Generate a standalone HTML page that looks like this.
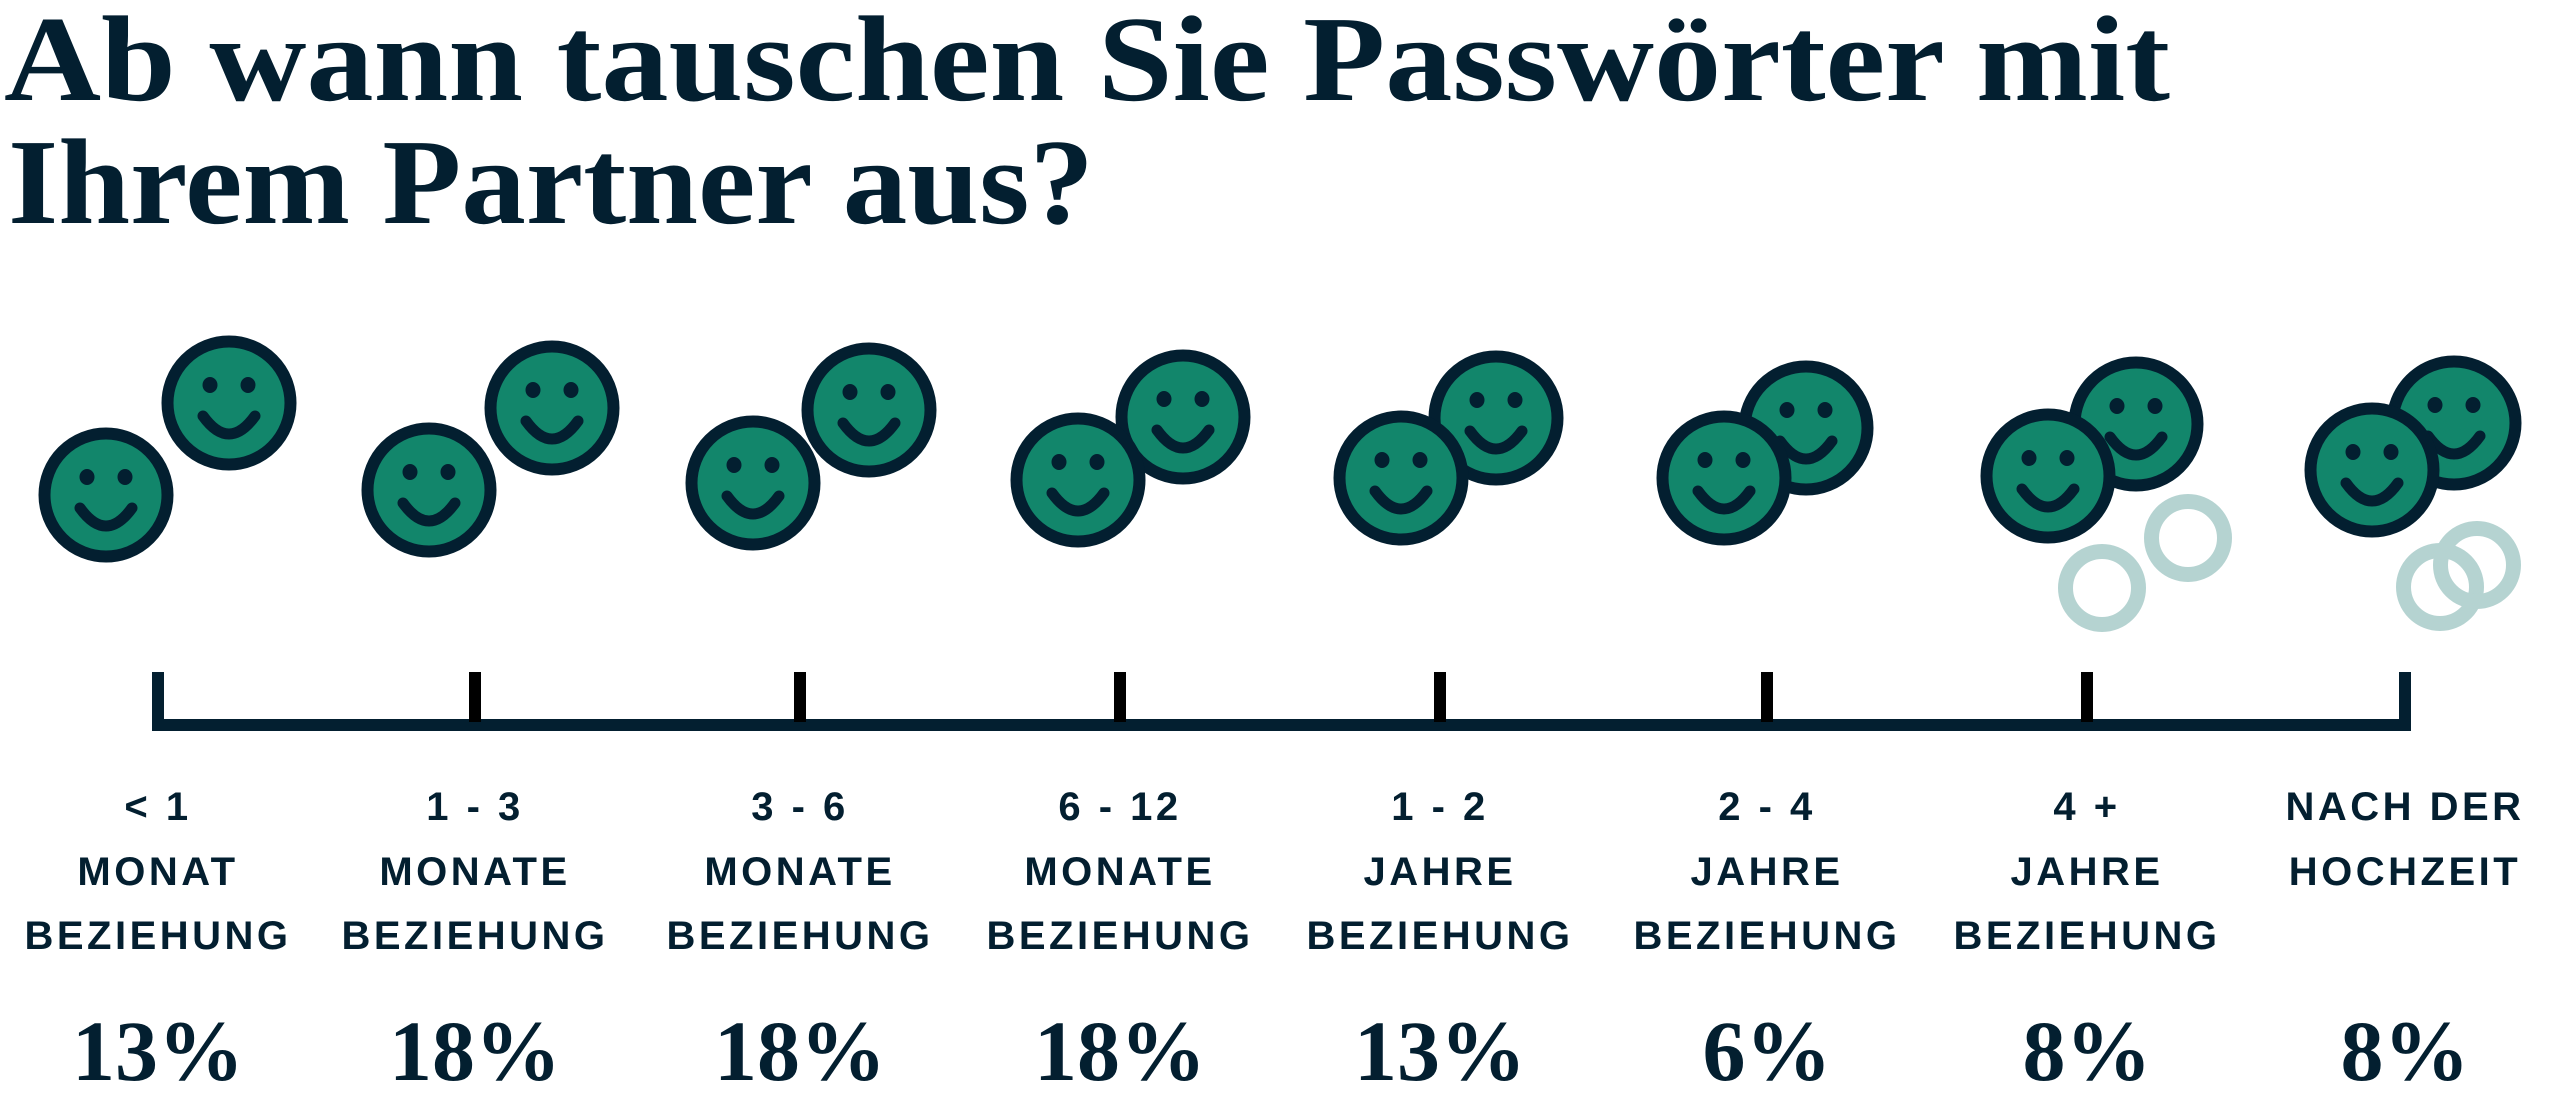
<!DOCTYPE html>
<html><head><meta charset="utf-8"><style>
html,body{margin:0;padding:0;background:#fff;}
svg{display:block;}
</style></head><body>
<svg width="2560" height="1106" viewBox="0 0 2560 1106" xmlns="http://www.w3.org/2000/svg">
<defs>
<g id="s">
<circle cx="0" cy="0" r="61.5" fill="#12866b" stroke="#031f30" stroke-width="12"/>
<ellipse cx="-19" cy="-18" rx="7.5" ry="8" fill="#031f30"/>
<ellipse cx="19" cy="-18" rx="7.5" ry="8" fill="#031f30"/>
<path d="M -26 13 Q 0 49 26 13" fill="none" stroke="#031f30" stroke-width="11" stroke-linecap="round"/>
</g>
</defs>
<g font-family="'Liberation Serif', serif" font-weight="bold" fill="#031f30">
<text x="4" y="100" font-size="122" textLength="2166" lengthAdjust="spacingAndGlyphs">Ab wann tauschen Sie Passwörter mit</text>
<text x="8" y="223" font-size="122" textLength="1086" lengthAdjust="spacingAndGlyphs">Ihrem Partner aus?</text>
</g>
<use href="#s" x="229" y="403"/><use href="#s" x="106" y="495"/>
<use href="#s" x="552" y="408"/><use href="#s" x="429" y="490"/>
<use href="#s" x="869" y="410"/><use href="#s" x="753" y="483"/>
<use href="#s" x="1183" y="417"/><use href="#s" x="1078" y="480"/>
<use href="#s" x="1496" y="418"/><use href="#s" x="1401" y="478"/>
<use href="#s" x="1806" y="428"/><use href="#s" x="1724" y="478"/>
<use href="#s" x="2136" y="424"/><use href="#s" x="2048" y="476"/>
<use href="#s" x="2454" y="423"/><use href="#s" x="2372" y="470"/>
<g fill="none" stroke="#b5d3d1" stroke-width="15">
<circle cx="2102" cy="588" r="36.5"/>
<circle cx="2188" cy="538" r="36.5"/>
<circle cx="2440" cy="587" r="36.5"/>
<circle cx="2477" cy="565" r="36.5"/>
</g>
<g fill="#031f30">
<rect x="152" y="719" width="2259" height="12"/>
<rect x="152" y="672" width="12" height="59"/>
<rect x="2399" y="672" width="12" height="59"/>
<rect x="469" y="672" width="12" height="50" fill="#000"/>
<rect x="794" y="672" width="12" height="50" fill="#000"/>
<rect x="1114" y="672" width="12" height="50" fill="#000"/>
<rect x="1434" y="672" width="12" height="50" fill="#000"/>
<rect x="1761" y="672" width="12" height="50" fill="#000"/>
<rect x="2081" y="672" width="12" height="50" fill="#000"/>
</g>
<g font-family="'Liberation Sans', sans-serif" font-weight="bold" font-size="40" fill="#031f30" text-anchor="middle" letter-spacing="3.5">
<text x="158" y="820">&lt; 1</text><text x="158" y="885">MONAT</text><text x="158" y="949">BEZIEHUNG</text>
<text x="475" y="820">1 - 3</text><text x="475" y="885">MONATE</text><text x="475" y="949">BEZIEHUNG</text>
<text x="800" y="820">3 - 6</text><text x="800" y="885">MONATE</text><text x="800" y="949">BEZIEHUNG</text>
<text x="1120" y="820">6 - 12</text><text x="1120" y="885">MONATE</text><text x="1120" y="949">BEZIEHUNG</text>
<text x="1440" y="820">1 - 2</text><text x="1440" y="885">JAHRE</text><text x="1440" y="949">BEZIEHUNG</text>
<text x="1767" y="820">2 - 4</text><text x="1767" y="885">JAHRE</text><text x="1767" y="949">BEZIEHUNG</text>
<text x="2087" y="820">4 +</text><text x="2087" y="885">JAHRE</text><text x="2087" y="949">BEZIEHUNG</text>
<text x="2405" y="820">NACH DER</text><text x="2405" y="885">HOCHZEIT</text>
</g>
<g font-family="'Liberation Serif', serif" font-weight="bold" font-size="86" fill="#031f30" text-anchor="middle">
<text x="158" y="1080">13%</text>
<text x="475" y="1080">18%</text>
<text x="800" y="1080">18%</text>
<text x="1120" y="1080">18%</text>
<text x="1440" y="1080">13%</text>
<text x="1767" y="1080">6%</text>
<text x="2087" y="1080">8%</text>
<text x="2405" y="1080">8%</text>
</g>
</svg>
</body></html>
